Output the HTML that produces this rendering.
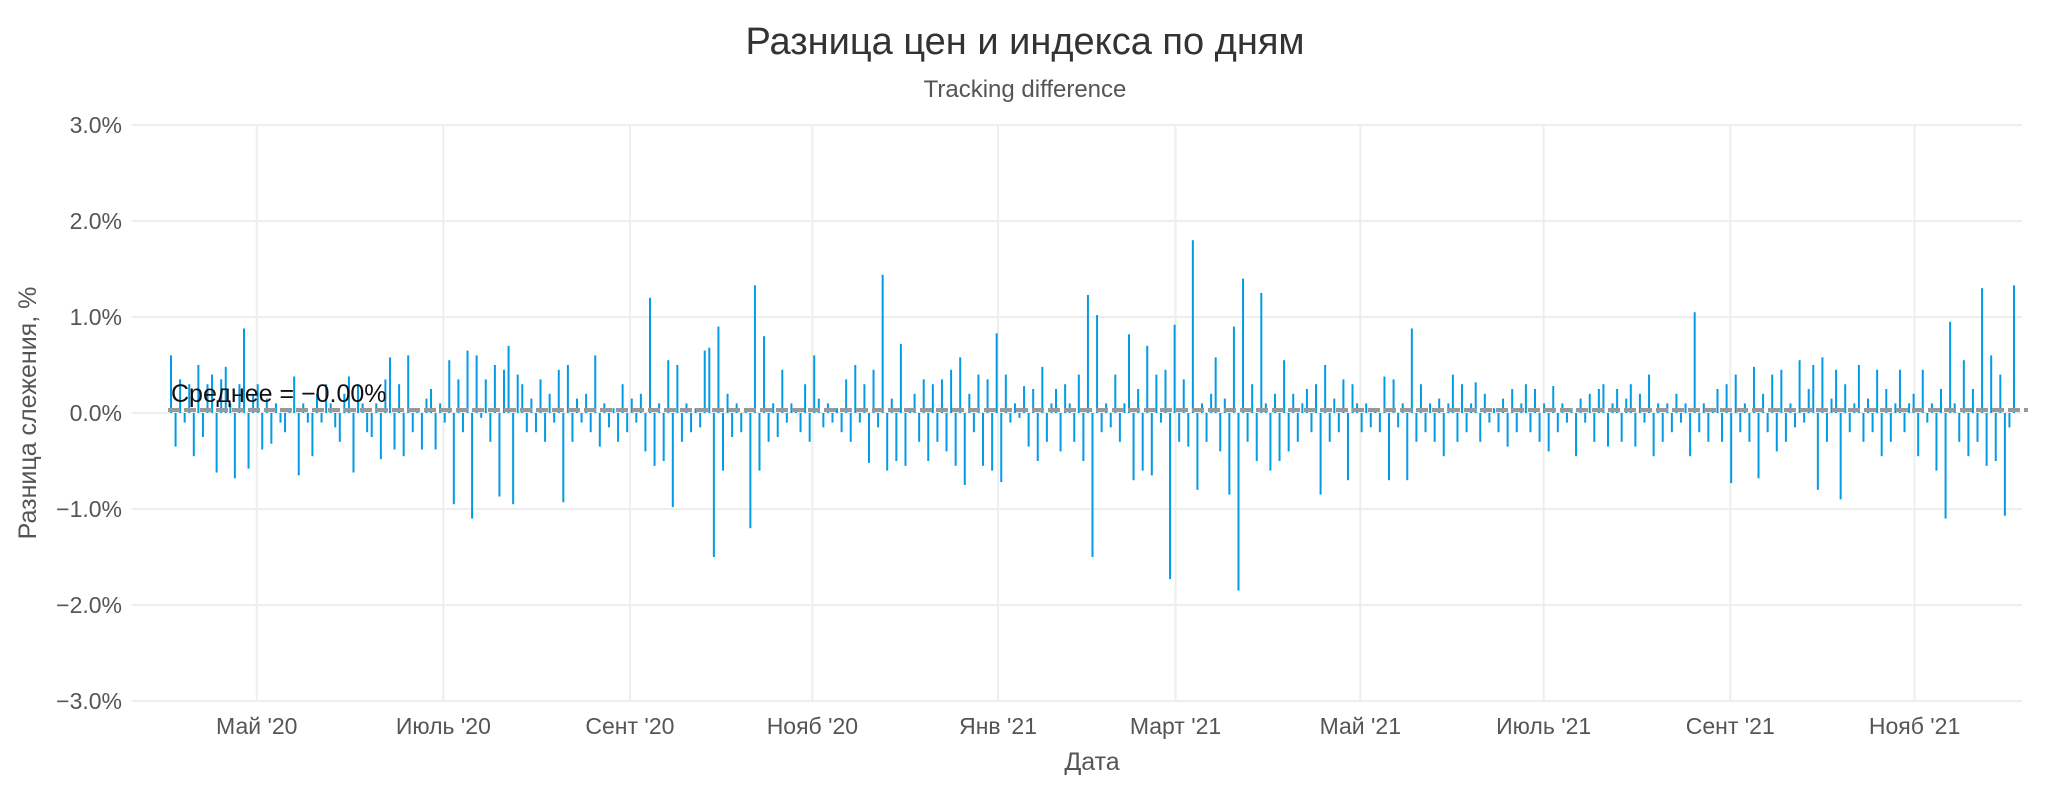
<!DOCTYPE html>
<html><head><meta charset="utf-8"><style>
html,body{margin:0;padding:0;background:#fff;}
svg{display:block;font-family:"Liberation Sans","DejaVu Sans",sans-serif;}
</style></head><body>
<svg id="chart" width="2050" height="788" viewBox="0 0 2050 788">
<text x="1025" y="54" text-anchor="middle" font-size="38" fill="#333">Разница цен и индекса по дням</text>
<text x="1025" y="97" text-anchor="middle" font-size="24" fill="#555">Tracking difference</text>
<g id="grid"></g>
<g id="bars"></g>
<g id="axes"></g>
<line x1="168" y1="410" x2="2028" y2="410" stroke="#999" stroke-width="4" stroke-dasharray="12,4"/>
<text x="171" y="402" font-size="25" fill="#111">Среднее = −0.00%</text>
<text x="1092" y="770" text-anchor="middle" font-size="25" fill="#555">Дата</text>
<text transform="translate(36,413) rotate(-90)" text-anchor="middle" font-size="25" fill="#555">Разница слежения, %</text>
</svg>
<script>
const yTicks = [3, 2, 1, 0, -1, -2, -3];
const yTickLabels = ["3.0%", "2.0%", "1.0%", "0.0%", "−1.0%", "−2.0%", "−3.0%"];
const xTickLabels = ["Май '20", "Июль '20", "Сент '20", "Нояб '20", "Янв '21", "Март '21", "Май '21", "Июль '21", "Сент '21", "Нояб '21"];
const xTickIndex = [18.8, 59.7, 100.6, 140.6, 181.3, 220.2, 260.7, 300.9, 341.8, 382.2];
const values = [
0.6,-0.35,0.35,-0.1,0.3,-0.45,0.5,-0.25,0.3,0.4,-0.62,0.35,0.48,0.1,-0.68,0.3,0.88,-0.58,0.2,0.3,-0.38,0.15,-0.32,
0.1,-0.1,-0.2,0.05,0.38,-0.65,0.1,-0.1,-0.45,0.2,-0.1,0.3,0.1,-0.15,-0.3,0.2,0.38,-0.62,0.3,0.1,-0.2,-0.25,0.1,-0.48,0.35,0.58,-0.38,0.3,-0.45,0.6,-0.2,0.05,-0.38,0.15,0.25,-0.38,0.1,-0.1,
0.55,-0.95,0.35,-0.2,0.65,-1.1,0.6,-0.05,0.35,-0.3,0.5,-0.87,0.45,0.7,-0.95,0.4,0.3,-0.2,0.15,-0.2,0.35,-0.3,0.2,-0.1,0.45,-0.93,0.5,-0.3,0.15,-0.1,0.2,-0.2,0.6,-0.35,0.1,-0.15,0.05,-0.3,0.3,-0.2,0.15,-0.1,0.2,-0.4,1.2,-0.55,
0.1,-0.5,0.55,-0.98,0.5,-0.3,0.1,-0.2,0.05,-0.15,0.65,0.68,-1.5,0.9,-0.6,0.2,-0.25,0.1,-0.2,0.05,-1.2,1.33,-0.6,0.8,-0.3,0.1,-0.25,0.45,-0.1,0.1,0.05,-0.2,0.3,-0.3,0.6,0.15,-0.15,0.1,-0.1,0.05,-0.2,0.35,-0.3,0.5,
-0.1,0.3,-0.52,0.45,-0.15,1.44,-0.6,0.15,-0.5,0.72,-0.55,0.05,0.2,-0.3,0.35,-0.5,0.3,-0.3,0.35,-0.4,0.45,-0.55,0.58,-0.75,0.2,-0.2,0.4,-0.55,0.35,-0.6,0.83,-0.72,0.4,-0.1,0.1,-0.05,0.28,-0.35,
0.25,-0.5,0.48,-0.3,0.1,0.25,-0.4,0.3,0.1,-0.3,0.4,-0.5,1.23,-1.5,1.02,-0.2,0.1,-0.15,0.4,-0.3,0.1,0.82,-0.7,0.25,-0.6,0.7,-0.65,0.4,-0.1,0.45,-1.73,0.92,-0.3,
0.35,-0.35,1.8,-0.8,0.1,-0.3,0.2,0.58,-0.4,0.15,-0.85,0.9,-1.85,1.4,-0.3,0.3,-0.5,1.25,0.1,-0.6,0.2,-0.5,0.55,-0.4,0.2,-0.3,0.1,0.25,-0.2,0.3,-0.85,
0.5,-0.3,0.15,-0.2,0.35,-0.7,0.3,0.1,-0.2,0.1,-0.15,0.05,-0.2,0.38,-0.7,0.35,-0.15,0.1,-0.7,0.88,-0.3,0.3,-0.2,0.1,-0.3,0.15,-0.45,0.1,0.4,-0.3,0.3,-0.2,0.1,0.32,-0.3,0.2,-0.1,0.05,-0.2,
0.15,-0.35,0.25,-0.2,0.1,0.3,-0.2,0.25,-0.3,0.1,-0.4,0.28,-0.2,0.1,-0.1,0.05,-0.45,0.15,-0.1,0.2,-0.3,0.25,0.3,-0.35,0.1,0.25,-0.3,0.15,0.3,-0.35,0.2,-0.1,0.4,-0.45,0.1,-0.3,0.1,-0.2,0.2,-0.1,0.1,-0.45,1.05,-0.2,0.1,-0.3,0.05,0.25,-0.3,0.3,-0.73,0.4,
-0.2,0.1,-0.3,0.48,-0.68,0.2,-0.2,0.4,-0.4,0.45,-0.3,0.1,-0.15,0.55,-0.1,0.25,0.5,-0.8,0.58,-0.3,0.15,0.45,-0.9,0.3,-0.2,0.1,0.5,-0.3,0.15,-0.2,0.45,-0.45,0.25,-0.3,0.1,0.45,-0.2,0.1,0.2,-0.45,0.45,-0.1,0.1,-0.6,0.25,-1.1,0.95,0.1,-0.3,0.55,-0.45,0.25,-0.3,1.3,-0.55,0.6,-0.5,0.4,-1.07,-0.15,1.33
];
const NS = "http://www.w3.org/2000/svg";
const X0 = 171, X1 = 2014, PL = 132, PR = 2022;
function xScale(i){ return X0 + i * (X1 - X0) / (values.length - 1); }
function yScale(v){ return 413 - v * 96; }
const grid = document.getElementById('grid');
const axes = document.getElementById('axes');
const bars = document.getElementById('bars');
yTicks.forEach((t, k) => {
  const l = document.createElementNS(NS, 'line');
  l.setAttribute('x1', PL); l.setAttribute('x2', PR);
  l.setAttribute('y1', yScale(t)); l.setAttribute('y2', yScale(t));
  l.setAttribute('stroke', '#eee'); l.setAttribute('stroke-width', '2');
  
  
  grid.appendChild(l);
  const tx = document.createElementNS(NS, 'text');
  tx.setAttribute('x', 122); tx.setAttribute('y', yScale(t) + 8);
  tx.setAttribute('text-anchor', 'end'); tx.setAttribute('font-size', '23'); tx.setAttribute('fill', '#555');
  tx.textContent = yTickLabels[k];
  
  
  axes.appendChild(tx);
});
xTickIndex.forEach((idx, k) => {
  const x = xScale(idx);
  const l = document.createElementNS(NS, 'line');
  l.setAttribute('x1', x); l.setAttribute('x2', x);
  l.setAttribute('y1', 125); l.setAttribute('y2', 701);
  l.setAttribute('stroke', '#eee'); l.setAttribute('stroke-width', '2');
  
  
  grid.appendChild(l);
  const tx = document.createElementNS(NS, 'text');
  tx.setAttribute('x', x); tx.setAttribute('y', 734);
  tx.setAttribute('text-anchor', 'middle'); tx.setAttribute('font-size', '23'); tx.setAttribute('fill', '#555');
  tx.textContent = xTickLabels[k];
  
  
  axes.appendChild(tx);
});
values.forEach((v, i) => {
  const r = document.createElementNS(NS, 'rect');
  const y0 = yScale(0), y1 = yScale(v);
  r.setAttribute('x', xScale(i) - 1);
  r.setAttribute('y', Math.min(y0, y1));
  r.setAttribute('width', 2);
  r.setAttribute('height', Math.max(1, Math.abs(y1 - y0)));
  r.setAttribute('fill', '#039be5');
  
  
  bars.appendChild(r);
});
</script>
</body></html>
